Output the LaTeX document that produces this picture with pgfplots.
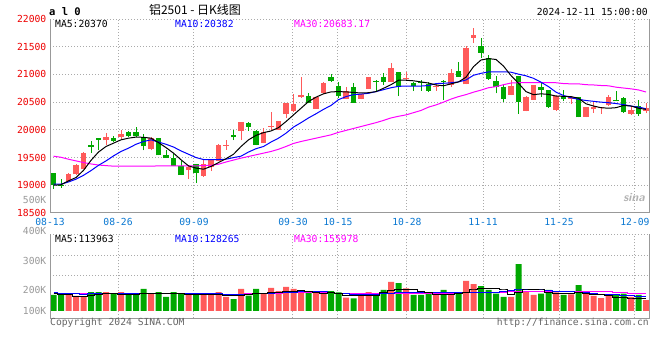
\documentclass[border=0pt]{standalone}
\usepackage{fontspec}
\setmainfont{DejaVu Sans Mono}
\setmonofont{DejaVu Sans Mono}
\newfontfamily\cjk{Noto Sans CJK SC}
\usepackage{pgfplots}
\pgfplotsset{compat=1.18}
\usepackage{pgfplotstable}
\definecolor{upred}{HTML}{FF5A5A}
\definecolor{dngreen}{HTML}{00A800}
\definecolor{mablue}{HTML}{0000FF}
\definecolor{mamag}{HTML}{FF00FF}
\definecolor{gridc}{HTML}{AAAAAA}
\definecolor{axc}{HTML}{999999}
\definecolor{xlab}{HTML}{0A78D2}
\definecolor{ylab}{HTML}{EE0000}
\definecolor{foot}{HTML}{666666}

\pgfplotstableread{
i o h l c v
0 19215 19230 18940 19000 142
1 19010 19120 18960 18990 142
2 19078 19215 19060 19209 148
3 19197 19380 19185 19370 133
4 19286 19605 19286 19590 127
5 19720 19800 19580 19690 168
6 19860 19860 19630 19825 168
7 19810 19940 19720 19875 168
8 19850 19890 19780 19800 154
9 19875 20000 19840 19930 168
10 19955 19985 19870 19895 148
11 19970 20060 19870 19895 148
12 19850 19930 19630 19700 195
13 19655 19870 19630 19855 154
14 19860 19860 19540 19540 168
15 19540 19630 19490 19490 124
16 19495 19570 19345 19355 168
17 19345 19430 19185 19185 154
18 19275 19360 19110 19330 148
19 19385 19385 19040 19220 148
20 19175 19460 19150 19385 159
21 19330 19475 19255 19465 148
22 19445 19740 19430 19730 168
23 19715 19825 19640 19730 124
24 19905 20000 19815 19865 106
25 19985 20140 19810 20140 195
26 20120 20150 19985 20060 136
27 19985 20000 19720 19730 195
28 19766 20025 19754 19953 154
29 20060 20325 20000 20075 204
30 19995 20165 19995 20165 177
31 20284 20490 20218 20477 213
32 20338 20645 20326 20465 195
33 20585 20945 20580 20620 165
34 20610 20670 20480 20490 168
35 20380 20585 20380 20585 168
36 20670 20860 20640 20850 154
37 20950 21010 20865 20880 177
38 20790 20860 20570 20610 165
39 20560 20765 20550 20705 118
40 20765 20850 20490 20490 112
41 20560 20655 20550 20655 136
42 20735 20950 20735 20950 168
43 20885 20900 20705 20865 136
44 20950 21020 20810 20860 186
45 20860 21210 20860 21120 257
46 21040 21050 20610 20775 248
47 20910 21050 20890 20935 201
48 20850 20870 20700 20790 142
49 20870 20895 20705 20860 142
50 20825 20860 20690 20705 165
51 20780 20840 20705 20800 142
52 20890 20905 20540 20860 186
53 20810 21090 20780 21030 142
54 21060 21230 20960 20960 154
55 20820 21510 20820 21480 266
56 21660 21835 21570 21710 239
57 21510 21655 21300 21390 221
58 21290 21350 20900 20925 186
59 20880 20970 20660 20765 154
60 20775 20820 20500 20560 124
61 20635 20905 20625 20795 124
62 20970 20970 20290 20510 416
63 20345 20605 20335 20595 168
64 20540 20810 20540 20810 142
65 20770 20840 20600 20720 154
66 20720 20720 20400 20410 186
67 20355 20630 20345 20615 165
68 20610 20720 20520 20550 142
69 20565 20610 20475 20600 148
70 20590 20590 20225 20225 230
71 20235 20420 20225 20405 154
72 20370 20500 20310 20405 133
73 20390 20410 20295 20410 115
74 20440 20625 20430 20590 142
75 20540 20705 20515 20515 142
76 20570 20585 20305 20315 154
77 20290 20415 20265 20355 124
78 20430 20530 20250 20290 142
79 20345 20480 20300 20400 97
}\candles

\pgfplotstableread{
i a b c
0 19000 19020 19525
1 19010 19020 19505
2 19080 19060 19470
3 19140 19110 19440
4 19270 19180 19410
5 19450 19265 19385
6 19600 19360 19365
7 19700 19440 19355
8 19760 19530 19345
9 19820 19610 19345
10 19850 19670 19345
11 19870 19740 19345
12 19865 19790 19345
13 19850 19820 19345
14 19770 19780 19350
15 19680 19740 19350
16 19580 19690 19350
17 19460 19620 19350
18 19350 19560 19350
19 19310 19500 19350
20 19290 19465 19355
21 19340 19465 19360
22 19410 19465 19380
23 19480 19470 19420
24 19560 19500 19455
25 19700 19525 19490
26 19820 19600 19520
27 19900 19660 19550
28 19950 19700 19580
29 19980 19780 19610
30 20040 19850 19650
31 20150 19940 19700
32 20270 20050 19755
33 20390 20130 19790
34 20510 20215 19820
35 20590 20290 19850
36 20650 20370 19880
37 20685 20440 19910
38 20690 20545 19955
39 20685 20600 19990
40 20675 20635 20025
41 20665 20645 20060
42 20670 20660 20095
43 20690 20690 20130
44 20750 20725 20170
45 20815 20760 20215
46 20895 20785 20245
47 20895 20790 20270
48 20885 20790 20310
49 20865 20790 20350
50 20845 20800 20410
51 20810 20835 20450
52 20795 20840 20500
53 20830 20850 20555
54 20865 20865 20600
55 20950 20900 20636
56 21140 20985 20680
57 21260 21020 20717
58 21285 21045 20760
59 21270 21048 20780
60 21150 21048 20815
61 20980 21040 20845
62 20840 21005 20850
63 20690 20975 20850
64 20635 20930 20850
65 20650 20860 20850
66 20640 20780 20850
67 20610 20680 20850
68 20605 20620 20835
69 20600 20580 20830
70 20570 20550 20830
71 20470 20530 20815
72 20430 20515 20810
73 20400 20500 20800
74 20390 20490 20795
75 20400 20475 20770
76 20440 20455 20755
77 20430 20430 20740
78 20390 20410 20720
79 20370 20382 20683
}\ma

\pgfplotstableread{
i a b c
0 157 165 157
1 148 154 157
2 142 154 157
3 130 154 157
4 130 148 157
5 136 154 157
6 145 154 157
7 151 154 157
8 151 154 157
9 148 154 157
10 148 154 157
11 148 154 154
12 154 154 154
13 154 159 154
14 154 159 154
15 154 159 154
16 151 159 154
17 151 159 154
18 148 154 154
19 148 154 154
20 148 154 154
21 148 154 145
22 145 154 145
23 139 142 145
24 133 142 145
25 133 142 145
26 148 145 151
27 154 154 157
28 157 157 157
29 165 159 157
30 165 165 157
31 174 165 162
32 174 168 162
33 183 171 162
34 174 174 162
35 165 174 162
36 159 171 162
37 162 162 162
38 157 159 151
39 133 154 151
40 133 148 151
41 133 142 151
42 133 142 151
43 139 145 151
44 168 151 154
45 180 154 154
46 192 162 154
47 192 165 154
48 192 165 154
49 174 165 154
50 162 165 154
51 148 165 154
52 148 165 154
53 148 165 154
54 157 165 165
55 168 168 165
56 186 168 165
57 198 168 165
58 198 168 165
59 198 168 165
60 186 174 165
61 148 183 171
62 168 186 171
63 186 189 171
64 189 189 171
65 186 186 171
66 162 180 171
67 151 174 174
68 154 174 174
69 151 174 174
70 162 168 174
71 157 162 174
72 145 154 174
73 145 148 174
74 133 148 171
75 121 142 165
76 121 136 162
77 115 133 159
78 112 130 157
79 112 127 157
}\vma

\begin{document}
\begin{tikzpicture}
\path[use as bounding box, fill=white] (0bp,0bp) rectangle (660bp,360bp);

% ---------------- price panel ----------------
\begin{axis}[
  at={(50bp,147bp)}, anchor=south west, scale only axis,
  width=599bp, height=194bp,
  xmin=-0.47, xmax=79.4, ymin=18500, ymax=22000,
  axis line style={draw=none},
  clip mode=individual,
  scaled y ticks=false,
  xtick={-0.47,8.60,18.73,31.93,37.93,47.13,57.27,67.4,77.53},
  xticklabels={08-13,08-26,09-09,09-30,10-15,10-28,11-11,11-25,12-09},
  ytick={18500,19000,...,22000},
  major tick length=0pt,
  xmajorgrids, ymajorgrids,
  grid style={draw=gridc, line width=1bp, dash pattern=on 1bp off 2bp},
  /pgf/number format/.cd, 1000 sep={}, fixed, assume math mode=true,
  /pgfplots/.cd,
  ticklabel style={font=\fontsize{9.7bp}{10bp}\selectfont},
  yticklabel style={text=ylab, inner sep=0pt, xshift=-3.5bp},
  xticklabel style={text=xlab, inner sep=0pt, anchor=north, yshift=-5bp},
]
% wicks
\addplot[draw=none, mark=none, restrict expr to domain={\thisrow{c}-\thisrow{o}}{0:100000},
  error bars/.cd, y dir=plus, y explicit, error mark=none,
  error bar style={line width=1bp, draw=upred}]
  table[x=i, y=l, y error expr=\thisrow{h}-\thisrow{l}] {\candles};
\addplot[draw=none, mark=none, restrict expr to domain={\thisrow{c}-\thisrow{o}}{-100000:-0.5},
  error bars/.cd, y dir=plus, y explicit, error mark=none,
  error bar style={line width=1bp, draw=dngreen}]
  table[x=i, y=l, y error expr=\thisrow{h}-\thisrow{l}] {\candles};
% bodies
\addplot[draw=none, mark=none, restrict expr to domain={\thisrow{c}-\thisrow{o}}{0:100000},
  error bars/.cd, y dir=plus, y explicit, error mark=none,
  error bar style={line width=5.8bp, draw=upred}]
  table[x=i, y=o, y error expr=\thisrow{c}-\thisrow{o}] {\candles};
\addplot[draw=none, mark=none, restrict expr to domain={\thisrow{c}-\thisrow{o}}{-100000:-0.5},
  error bars/.cd, y dir=plus, y explicit, error mark=none,
  error bar style={line width=5.8bp, draw=dngreen}]
  table[x=i, y=c, y error expr=\thisrow{o}-\thisrow{c}] {\candles};
% moving averages
\addplot[mamag, line width=1bp, mark=none] table[x=i, y=c] {\ma};
\addplot[mablue, line width=1bp, mark=none] table[x=i, y=b] {\ma};
\addplot[black, line width=1bp, mark=none] table[x=i, y=a] {\ma};
\draw[axc, line width=1bp] (rel axis cs:0,1) -- (rel axis cs:0,0) -- (rel axis cs:1,0) -- (rel axis cs:1,1);
\end{axis}

% ---------------- volume panel ----------------
\begin{axis}[
  at={(50bp,41.7bp)}, anchor=south west, scale only axis,
  width=599bp, height=84bp,
  xmin=-0.47, xmax=79.4, ymin=-65, ymax=680,
  axis line style={draw=none},
  clip mode=individual,
  xtick={-0.47,8.60,18.73,31.93,37.93,47.13,57.27,67.4,77.53},
  xticklabels={}, ytick={319,496}, yticklabels={},
  major tick length=0pt,
  xmajorgrids, ymajorgrids,
  grid style={draw=gridc, line width=1bp, dash pattern=on 1bp off 2bp},
]
\addplot[ybar, bar width=6bp, bar shift=0pt, fill=upred, draw=none,
  restrict expr to domain={\thisrow{c}-\thisrow{o}}{0:100000}]
  table[x=i, y=v] {\candles};
\addplot[ybar, bar width=6bp, bar shift=0pt, fill=dngreen, draw=none,
  restrict expr to domain={\thisrow{c}-\thisrow{o}}{-100000:-0.5}]
  table[x=i, y=v] {\candles};
\addplot[mamag, line width=1bp, mark=none, const plot mark mid] table[x=i, y=c] {\vma};
\addplot[mablue, line width=1bp, mark=none, const plot mark mid] table[x=i, y=b] {\vma};
\addplot[black, line width=1bp, mark=none, const plot mark mid] table[x=i, y=a] {\vma};
\draw[gridc, line width=1bp, dash pattern=on 1bp off 2bp] (rel axis cs:0,1) -- (rel axis cs:1,1);
\draw[axc, line width=1bp] (rel axis cs:0,1) -- (rel axis cs:0,0) -- (rel axis cs:1,0) -- (rel axis cs:1,1);
\end{axis}

% ---------------- texts ----------------
\begin{scope}[every node/.style={inner sep=0pt, font=\fontsize{9.7bp}{10bp}\selectfont}]
\node[anchor=west, font=\fontsize{10.5bp}{11bp}\selectfont\bfseries] at (49bp,348bp) {a l 0};
\node[anchor=center, font=\fontsize{12bp}{12bp}\selectfont\cjk] at (195bp,350bp) {铝2501 - 日K线图};
\node[anchor=east] at (648bp,348bp) {2024-12-11 15:00:00};
\node[anchor=west] at (55bp,336bp) {MA5:20370};
\node[anchor=west, text=mablue] at (175bp,336bp) {MA10:20382};
\node[anchor=west, text=mamag] at (294bp,336bp) {MA30:20683.17};
\node[anchor=west] at (55bp,121bp) {MA5:113963};
\node[anchor=west, text=mablue] at (175bp,121bp) {MA10:128265};
\node[anchor=west, text=mamag] at (294bp,121bp) {MA30:155978};
\node[anchor=east, text=axc] at (46.5bp,160bp) {500K};
\node[anchor=east, text=axc] at (46.5bp,129.5bp) {400K};
\node[anchor=east, text=axc] at (46.5bp,99.5bp) {300K};
\node[anchor=east, text=axc] at (46.5bp,70bp) {200K};
\node[anchor=east, text=axc] at (46.5bp,49.5bp) {100K};
\node[anchor=west, text=foot] at (50bp,37bp) {Copyright 2024 SINA.COM};
\node[anchor=east, text=foot] at (649bp,37bp) {http://finance.sina.com.cn};
\node[anchor=center, text=black!30, font=\fontsize{12bp}{12bp}\selectfont\sffamily\bfseries\itshape] at (634bp,162bp) {sina};
\end{scope}
\end{tikzpicture}
\end{document}
